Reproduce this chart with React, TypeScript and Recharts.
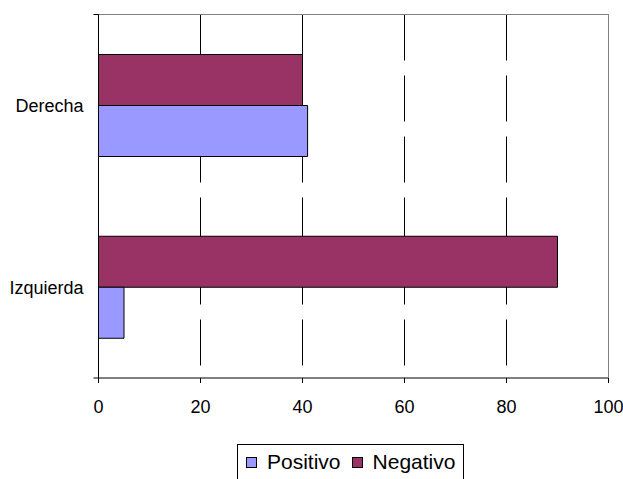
import { BarChart, Bar, XAxis, YAxis, CartesianGrid, Legend } from 'recharts'

const categories = ['Derecha', 'Izquierda']
const positivo = [41, 5]
const negativo = [40, 90]
const xTicks = [0, 20, 40, 60, 80, 100]
const edgeTicks = [0, 1, 2]

const seriesInfo = [
  { key: 'Positivo', color: '#9999FF' },
  { key: 'Negativo', color: '#993366' },
]

const data = categories.map((name, i) => ({
  name,
  Positivo: positivo[i],
  Negativo: negativo[i],
}))

const FONT = '"Liberation Sans", Arial, sans-serif'

const NoLabel = () => <g />

const LegendBox = () => (
  <div style={{ textAlign: 'left' }}>
    <div
      style={{
        display: 'inline-flex',
        alignItems: 'center',
        boxSizing: 'border-box',
        height: 36,
        border: '1px solid #000',
        padding: '0 8px',
        fontFamily: FONT,
        fontSize: 21,
        color: '#000',
        background: '#fff',
      }}
    >
      {seriesInfo.map((s, i) => (
        <span
          key={s.key}
          style={{ display: 'inline-flex', alignItems: 'center', marginLeft: i ? 11 : 0 }}
        >
          <span
            style={{
              display: 'inline-block',
              width: 9,
              height: 9,
              border: '1px solid #000',
              background: s.color,
              marginRight: 10,
            }}
          />
          {s.key}
        </span>
      ))}
    </div>
  </div>
)

export default function App() {
  return (
    <div style={{ position: 'absolute', left: 0, top: 0, fontFamily: FONT }}>
      <BarChart
        width={623}
        height={479}
        data={data}
        layout="vertical"
        margin={{ top: 13.5, right: 13.5, left: 0.5, bottom: 35 }}
        barGap={0}
        barSize={51}
      >
        <CartesianGrid
          vertical={true}
          horizontal={false}
          stroke="#000"
          strokeDasharray="46 15"
        />
        <XAxis
          type="number"
          domain={[0, 100]}
          ticks={xTicks}
          interval={0}
          height={30}
          tickSize={5}
          tickMargin={17}
          axisLine={{ stroke: '#000' }}
          tickLine={{ stroke: '#000' }}
          tick={{ fill: '#000', fontSize: 18, fontFamily: FONT }}
        />
        <XAxis
          xAxisId="top"
          type="number"
          orientation="top"
          domain={[0, 100]}
          height={1}
          tick={false}
          tickLine={false}
          axisLine={{ stroke: '#808080' }}
        />
        <YAxis
          yAxisId="cat"
          type="category"
          dataKey="name"
          width={93}
          axisLine={false}
          tickLine={false}
          tickSize={0}
          tickMargin={10}
          tick={{ fill: '#000', fontSize: 18, fontFamily: FONT }}
        />
        <YAxis
          type="number"
          domain={[0, 2]}
          ticks={edgeTicks}
          interval={0}
          width={5}
          tick={NoLabel}
          tickSize={5}
          axisLine={{ stroke: '#000' }}
          tickLine={{ stroke: '#000' }}
        />
        <YAxis
          yAxisId="right"
          type="number"
          orientation="right"
          domain={[0, 2]}
          width={1}
          tick={false}
          tickLine={false}
          axisLine={{ stroke: '#808080' }}
        />
        <Legend
          content={<LegendBox />}
          verticalAlign="bottom"
          wrapperStyle={{ top: 444, bottom: 'auto', left: 237, width: 250 }}
        />
        <Bar yAxisId="cat" dataKey="Negativo" fill="#993366" stroke="#000" strokeWidth={1} isAnimationActive={false} />
        <Bar yAxisId="cat" dataKey="Positivo" fill="#9999FF" stroke="#000" strokeWidth={1} isAnimationActive={false} />
      </BarChart>
    </div>
  )
}
